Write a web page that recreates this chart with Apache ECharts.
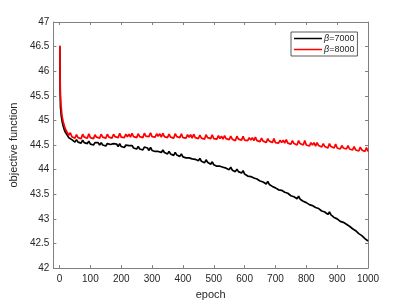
<!DOCTYPE html>
<html>
<head>
<meta charset="utf-8">
<script src="https://cdn.jsdelivr.net/npm/echarts@6/dist/echarts.min.js"></script>
<style>html,body{margin:0;padding:0;background:#fff}#c{width:407px;height:305px}</style>
</head>
<body>
<div id="c"></div>
<script>
const epochs = [1,2,3,4,5,6,7,8,9,10,12,14,16,18,20,
25,30,35,40,45,50,55,60,65,70,75,80,85,90,95,100,
105,110,115,120,125,130,135,140,145,150,155,160,165,170,175,180,185,190,195,200,
205,210,215,220,225,230,235,240,245,250,255,260,265,270,275,280,285,290,295,300,
305,310,315,320,325,330,335,340,345,350,355,360,365,370,375,380,385,390,395,400,
405,410,415,420,425,430,435,440,445,450,455,460,465,470,475,480,485,490,495,500,
505,510,515,520,525,530,535,540,545,550,555,560,565,570,575,580,585,590,595,600,
605,610,615,620,625,630,635,640,645,650,655,660,665,670,675,680,685,690,695,700,
705,710,715,720,725,730,735,740,745,750,755,760,765,770,775,780,785,790,795,800,
805,810,815,820,825,830,835,840,845,850,855,860,865,870,875,880,885,890,895,900,
905,910,915,920,925,930,935,940,945,950,955,960,965,970,975,980,985,990,995,1000];

const beta7000 = [46.50,45.60,45.28,45.22,45.13,45.09,45.03,45.01,44.96,44.95,44.88,44.86,44.80,44.79,44.75,
44.73,44.65,44.67,44.61,44.62,44.56,44.61,44.56,44.58,44.54,44.60,44.55,44.58,44.53,44.58,44.52,
44.55,44.50,44.55,44.51,44.55,44.50,44.55,44.50,44.53,44.48,44.53,44.49,44.51,44.47,44.53,44.49,44.52,44.47,44.53,44.47,
44.50,44.45,44.50,44.46,44.49,44.45,44.49,44.44,44.47,44.42,44.47,44.42,44.44,44.40,44.46,44.42,44.44,44.39,44.45,44.39,
44.41,44.37,44.41,44.37,44.40,44.35,44.40,44.35,44.37,44.32,44.37,44.32,44.33,44.29,44.35,44.30,44.32,44.27,44.32,44.26,
44.28,44.24,44.28,44.24,44.27,44.22,44.26,44.21,44.23,44.18,44.23,44.17,44.19,44.14,44.20,44.15,44.17,44.11,44.16,44.10,
44.12,44.07,44.11,44.07,44.10,44.05,44.09,44.03,44.05,44.00,44.05,43.99,44.01,43.96,44.01,43.96,43.98,43.93,43.98,43.91,
43.93,43.87,43.91,43.86,43.89,43.83,43.87,43.81,43.83,43.77,43.81,43.75,43.76,43.71,43.76,43.70,43.72,43.66,43.70,43.63,
43.65,43.59,43.63,43.58,43.60,43.54,43.58,43.52,43.53,43.47,43.51,43.45,43.46,43.41,43.46,43.40,43.42,43.36,43.40,43.33,
43.34,43.29,43.32,43.27,43.29,43.23,43.27,43.21,43.22,43.16,43.20,43.14,43.14,43.09,43.14,43.08,43.09,43.03,43.07,43.00,
43.01,42.95,42.98,42.93,42.95,42.89,42.92,42.85,42.86,42.80,42.83,42.76,42.76,42.70,42.73,42.66,42.67,42.60,42.63,42.55];

const beta8000 = [46.52,45.80,45.50,45.40,45.29,45.23,45.15,45.12,45.06,45.05,44.97,44.94,44.88,44.86,44.81,
44.80,44.70,44.75,44.67,44.70,44.64,44.71,44.65,44.69,44.63,44.72,44.66,44.70,44.64,44.73,44.65,
44.69,44.63,44.71,44.66,44.70,44.64,44.72,44.66,44.70,44.64,44.72,44.66,44.69,44.64,44.72,44.67,44.71,44.65,44.74,44.66,
44.70,44.65,44.72,44.67,44.72,44.66,44.74,44.67,44.71,44.65,44.73,44.67,44.71,44.65,44.74,44.68,44.72,44.67,44.75,44.67,
44.71,44.66,44.73,44.68,44.73,44.66,44.74,44.67,44.71,44.65,44.72,44.66,44.70,44.64,44.73,44.67,44.71,44.65,44.73,44.65,
44.69,44.64,44.71,44.66,44.71,44.64,44.72,44.65,44.69,44.63,44.70,44.64,44.68,44.62,44.71,44.65,44.69,44.63,44.71,44.63,
44.67,44.62,44.69,44.63,44.68,44.62,44.69,44.63,44.67,44.61,44.68,44.62,44.65,44.59,44.68,44.62,44.66,44.60,44.68,44.60,
44.64,44.59,44.65,44.60,44.65,44.59,44.66,44.59,44.63,44.57,44.64,44.58,44.61,44.55,44.63,44.58,44.61,44.55,44.63,44.55,
44.59,44.54,44.60,44.55,44.60,44.54,44.61,44.54,44.58,44.52,44.59,44.53,44.56,44.50,44.59,44.53,44.57,44.50,44.59,44.50,
44.54,44.48,44.55,44.50,44.55,44.48,44.55,44.49,44.52,44.46,44.53,44.47,44.50,44.44,44.53,44.47,44.50,44.44,44.52,44.44,
44.48,44.42,44.49,44.44,44.48,44.42,44.49,44.42,44.46,44.40,44.47,44.40,44.43,44.38,44.46,44.40,44.44,44.37,44.45,44.37];

const seriesNames = ['β=7000', 'β=8000'];
const xTicks = [0,100,200,300,400,500,600,700,800,900,1000];

const AXC = '#808080';
const TXT = '#262626';
const FONT = 'Liberation Sans, Arial, sans-serif';

function pairs(vals){ return epochs.map((e,i)=>[e, vals[i]]); }

const chart = echarts.init(document.getElementById('c'), null, {renderer:'canvas'});
const baseX = {
  type:'value', min:-20, max:1000,
  splitLine:{show:false},
  axisLine:{show:true, onZero:false, lineStyle:{color:AXC, width:1}},
  axisTick:{show:true, inside:true, length:3, customValues:xTicks, lineStyle:{color:AXC}},
};
const baseY = {
  type:'value', min:42, max:47, interval:0.5,
  splitLine:{show:false},
  axisLine:{show:true, onZero:false, lineStyle:{color:AXC, width:1}},
  axisTick:{show:true, inside:true, length:3, lineStyle:{color:AXC}},
};
chart.setOption({
  animation:false,
  backgroundColor:'#fff',
  grid:{left:53, right:39, top:22, bottom:34, containLabel:false},
  legend:{
    data:seriesNames,
    left:291, top:32,
    orient:'vertical',
    itemWidth:28, itemHeight:1.5, itemGap:2,
    icon:'rect',
    padding:[2,3,2,3],
    backgroundColor:'#fff',
    borderColor:'#333', borderWidth:0.8,
    formatter:function(n){ return '{b|β}' + n.slice(1); },
    textStyle:{fontFamily:FONT, fontSize:9, color:TXT, padding:[0,0,0,-3],
      rich:{b:{fontStyle:'italic', fontFamily:FONT, fontSize:9, color:TXT}}}
  },
  xAxis:[
    Object.assign({}, baseX, {
      position:'bottom',
      name:'epoch', nameLocation:'middle', nameGap:19,
      nameTextStyle:{fontFamily:FONT, fontSize:11, color:TXT},
      axisLabel:{show:true, customValues:xTicks, margin:6, color:TXT, fontFamily:FONT, fontSize:10,
        formatter:function(v){ return String(v); }}
    }),
    Object.assign({}, baseX, {position:'top', axisLabel:{show:false}})
  ],
  yAxis:[
    Object.assign({}, baseY, {
      position:'left',
      name:'objective function', nameLocation:'middle', nameGap:25,
      nameTextStyle:{fontFamily:FONT, fontSize:11, color:TXT},
      axisLabel:{show:true, margin:4, color:TXT, fontFamily:FONT, fontSize:10}
    }),
    Object.assign({}, baseY, {position:'right', axisLabel:{show:false}})
  ],
  series:[
    {name:seriesNames[0], type:'line', data:pairs(beta7000), showSymbol:false, symbol:'none',
     lineStyle:{color:'#000', width:1.7}, itemStyle:{color:'#000'}, xAxisIndex:0, yAxisIndex:0},
    {name:seriesNames[1], type:'line', data:pairs(beta8000), showSymbol:false, symbol:'none',
     lineStyle:{color:'#ff0000', width:1.7}, itemStyle:{color:'#ff0000'}, xAxisIndex:0, yAxisIndex:0}
  ]
});
</script>
</body>
</html>
